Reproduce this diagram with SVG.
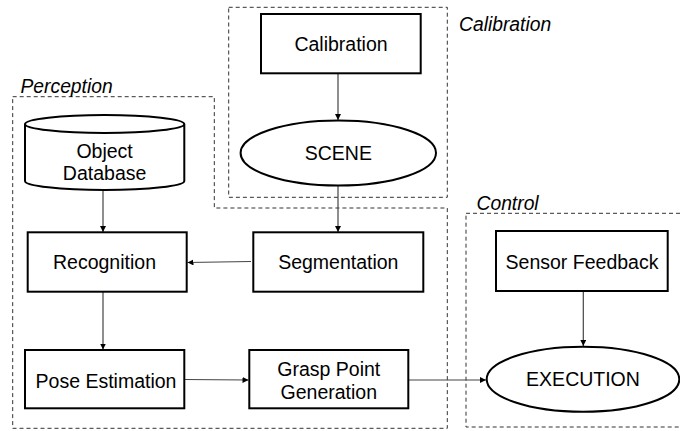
<svg xmlns="http://www.w3.org/2000/svg" width="680" height="431" viewBox="0 0 680 431">
<style>
  .node { fill: #fff; stroke: #000; stroke-width: 2; }
  .grp { fill: none; stroke: #333; stroke-width: 1; stroke-dasharray: 4 3; }
  .lbl { font-family: "Liberation Sans", Arial, sans-serif; font-size: 19.5px; fill: #000; text-anchor: middle; dominant-baseline: central; }
  .glbl { font-family: "Liberation Sans", Arial, sans-serif; font-size: 19.3px; font-style: italic; fill: #000; }
  .edge { fill: none; stroke: #444; stroke-width: 1.2; marker-end: url(#arr); }
</style>
<defs>
  <marker id="arr" viewBox="0 0 10 10" refX="10" refY="5" markerWidth="6" markerHeight="6" markerUnits="userSpaceOnUse" orient="auto">
    <path d="M0,0 L10,5 L0,10 z" fill="#000"/>
  </marker>
</defs>
<rect width="680" height="431" fill="#fff"/>
<g id="groups">
  <rect class="grp" x="228.7" y="7.3" width="218.6" height="190"/>
  <path class="grp" d="M12.7,96.7 H214.3 V208 H447.3 V428.3 H12.7 Z"/>
  <rect class="grp" x="466" y="213.3" width="220" height="213.7"/>
  <text class="glbl" x="459" y="31">Calibration</text>
  <text class="glbl" x="20.5" y="93">Perception</text>
  <text class="glbl" x="476.5" y="210">Control</text>
</g>
<g id="connectors">
  <line class="edge" x1="338" y1="73.3" x2="338" y2="120"/>
  <line class="edge" x1="338" y1="185" x2="338" y2="232"/>
  <line class="edge" x1="103" y1="190" x2="103" y2="232"/>
  <line class="edge" x1="251" y1="261.5" x2="187.5" y2="262.5"/>
  <line class="edge" x1="103" y1="291.7" x2="103" y2="349.5"/>
  <line class="edge" x1="184.3" y1="379.5" x2="248.5" y2="380"/>
  <line class="edge" x1="408.3" y1="380" x2="486" y2="380"/>
  <line class="edge" x1="583.3" y1="291" x2="583.3" y2="346"/>
</g>
<g id="calibration">
  <rect class="node" x="261" y="14" width="159.7" height="59.3"/>
  <text class="lbl" x="341" y="44">Calibration</text>
</g>
<g id="scene">
  <ellipse class="node" cx="338.3" cy="153" rx="97.7" ry="32.5"/>
  <text class="lbl" x="338.3" y="153">SCENE</text>
</g>
<g id="object-database">
  <path class="node" d="M25,124 V181 A79.65,9 0 0 0 184.3,181 V124 A79.65,9 0 0 0 25,124 A79.65,9 0 0 0 184.3,124"/>
  <text class="lbl" x="104.6" y="150.5">Object</text>
  <text class="lbl" x="104.6" y="173">Database</text>
</g>
<g id="recognition">
  <rect class="node" x="27.7" y="232.3" width="159" height="59.4"/>
  <text class="lbl" x="104.5" y="261.5">Recognition</text>
</g>
<g id="segmentation">
  <rect class="node" x="253.3" y="232.3" width="170" height="59.4"/>
  <text class="lbl" x="338.3" y="261.5">Segmentation</text>
</g>
<g id="pose-estimation">
  <rect class="node" x="25" y="350" width="159.3" height="58.3"/>
  <text class="lbl" x="106" y="381">Pose Estimation</text>
</g>
<g id="grasp-point-generation">
  <rect class="node" x="249.3" y="350" width="159" height="58.3"/>
  <text class="lbl" x="328.8" y="369">Grasp Point</text>
  <text class="lbl" x="328.8" y="391.5">Generation</text>
</g>
<g id="sensor-feedback">
  <rect class="node" x="496" y="231" width="171.7" height="60"/>
  <text class="lbl" x="582" y="261.5">Sensor Feedback</text>
</g>
<g id="execution">
  <ellipse class="node" cx="583" cy="379.3" rx="96.3" ry="32.5"/>
  <text class="lbl" x="583" y="379.3">EXECUTION</text>
</g>
</svg>
